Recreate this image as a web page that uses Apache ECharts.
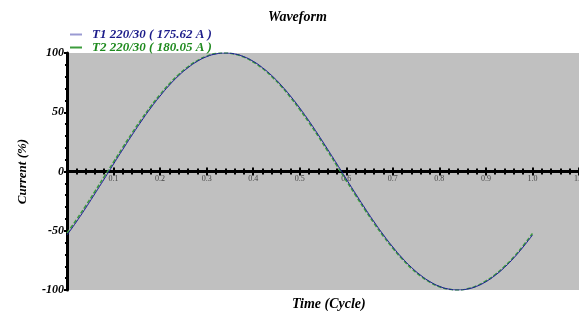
<!DOCTYPE html>
<html>
<head>
<meta charset="utf-8">
<script src="https://cdn.jsdelivr.net/npm/echarts@6/dist/echarts.min.js"></script>
<style>
  html, body { margin: 0; padding: 0; background: #fff; }
  #chart { width: 579px; height: 311px; }
</style>
</head>
<body>
<div id="chart"></div>
<script>
// time in cycles
var times = [0, 0.02, 0.04, 0.06, 0.08, 0.10, 0.12, 0.14, 0.16, 0.18,
  0.20, 0.22, 0.24, 0.26, 0.28, 0.30, 0.32, 0.34, 0.36, 0.38,
  0.40, 0.42, 0.44, 0.46, 0.48, 0.50, 0.52, 0.54, 0.56, 0.58,
  0.60, 0.62, 0.64, 0.66, 0.68, 0.70, 0.72, 0.74, 0.76, 0.78,
  0.80, 0.82, 0.84, 0.86, 0.88, 0.90, 0.92, 0.94, 0.96, 0.98, 1.00];

// current in % of peak
var t1Values = [-53.6, -42.6, -30.9, -18.7, -6.3, 6.3, 18.7, 30.9, 42.6, 53.6,
  63.7, 72.9, 80.9, 87.6, 93.0, 96.9, 99.2, 100, 99.2, 96.9,
  93.0, 87.6, 80.9, 72.9, 63.7, 53.6, 42.6, 30.9, 18.7, 6.3,
  -6.3, -18.7, -30.9, -42.6, -53.6, -63.7, -72.9, -80.9, -87.6, -93.0,
  -96.9, -99.2, -100, -99.2, -96.9, -93.0, -87.6, -80.9, -72.9, -63.7, -53.6];

var t2Values = [-52.0, -40.8, -29.0, -16.8, -4.3, 8.0, 20.5, 32.6, 44.2, 55.0,
  65.0, 74.0, 81.9, 88.4, 93.6, 97.3, 99.5, 100, 99.0, 96.5,
  92.4, 86.9, 80.0, 72.0, 62.6, 52.3, 41.2, 29.5, 17.2, 4.8,
  -7.8, -20.1, -32.3, -43.9, -54.8, -64.8, -73.9, -81.8, -88.3, -93.5,
  -97.2, -99.4, -100, -99.0, -96.5, -92.4, -86.9, -80.0, -72.0, -62.6, -52.3];

var yTicks = [-100, -50, 0, 50, 100];

function pairs(xs, ys) {
  return xs.map(function (x, i) { return [x, ys[i]]; });
}

var serif = '"Liberation Serif", "DejaVu Serif", serif';

var chart = echarts.init(document.getElementById('chart'));

// the x axis sits on the zero line: half the plot height up from the bottom
var zeroOffset = -118.5;

var xBase = {
  type: 'value',
  min: 0,
  max: 1.1,
  interval: 0.1,
  position: 'bottom',
  offset: zeroOffset,
  axisLine: { onZero: false, lineStyle: { color: '#000', width: 3 } },
  splitLine: { show: false },
  minorTick: { show: true, splitNumber: 5, length: 3, lineStyle: { color: '#000', width: 2 } },
  axisTick: { length: 4, lineStyle: { color: '#000', width: 2 } }
};

chart.setOption({
  animation: false,
  title: [
    {
      text: 'Waveform',
      left: 263,
      top: 5,
      textStyle: { fontFamily: serif, fontSize: 14, fontWeight: 'bold', fontStyle: 'italic', color: '#000' }
    },
    {
      text: 'Time (Cycle)',
      left: 287,
      top: 292,
      textStyle: { fontFamily: serif, fontSize: 14, fontWeight: 'bold', fontStyle: 'italic', color: '#000' }
    }
  ],
  legend: {
    orient: 'vertical',
    left: 70,
    top: 28,
    padding: 0,
    itemGap: 0,
    itemWidth: 12,
    itemHeight: 2,
    icon: 'rect',
    textStyle: { fontFamily: serif, fontSize: 13, fontWeight: 'bold', fontStyle: 'italic', padding: [0, 0, 0, 5] },
    data: [
      { name: 'T1 220/30 ( 175.62 A )', itemStyle: { color: '#9a9ad2' }, textStyle: { color: '#1c1c8a' } },
      { name: 'T2 220/30 ( 180.05 A )', itemStyle: { color: '#3c9c3c' }, textStyle: { color: '#1f8a1f' } }
    ]
  },
  grid: {
    left: 67,
    right: 0,
    top: 53,
    bottom: 21,
    outerBoundsMode: 'none',
    containLabel: false,
    show: true,
    backgroundColor: '#c0c0c0',
    borderWidth: 0
  },
  xAxis: [
    Object.assign({}, xBase, {
      axisLabel: {
        showMinLabel: false,
        hideOverlap: false,
        fontFamily: serif,
        fontSize: 8,
        color: '#444',
        margin: 3,
        formatter: function (v) { return v.toFixed(1); }
      }
    }),
    Object.assign({}, xBase, {
      axisLine: { show: false, onZero: false },
      axisLabel: { show: false },
      axisTick: { inside: true, length: 4, lineStyle: { color: '#000', width: 2 } },
      minorTick: { show: true, splitNumber: 5, length: 3, lineStyle: { color: '#000', width: 2 } }
    })
  ],
  yAxis: {
    type: 'value',
    min: yTicks[0],
    max: yTicks[yTicks.length - 1],
    interval: 50,
    name: 'Current (%)',
    nameLocation: 'middle',
    nameGap: 38,
    nameTextStyle: { fontFamily: serif, fontSize: 13, fontWeight: 'bold', fontStyle: 'italic', color: '#000' },
    axisLine: { show: true, onZero: false, lineStyle: { color: '#000', width: 3 } },
    axisTick: { show: true, length: 3, lineStyle: { color: '#000', width: 2 } },
    minorTick: { show: true, splitNumber: 5, length: 2, lineStyle: { color: '#000', width: 2 } },
    splitLine: { show: false },
    axisLabel: {
      fontFamily: serif,
      fontSize: 12,
      fontWeight: 'bold',
      fontStyle: 'italic',
      color: '#000',
      margin: 3
    }
  },
  series: [
    {
      name: 'T2 220/30 ( 180.05 A )',
      type: 'line',
      data: pairs(times, t2Values),
      smooth: true,
      showSymbol: false,
      lineStyle: { color: '#3c9c3c', width: 1.5, type: [4, 2] },
      itemStyle: { color: '#3c9c3c' },
      z: 2
    },
    {
      name: 'T1 220/30 ( 175.62 A )',
      type: 'line',
      data: pairs(times, t1Values),
      smooth: true,
      showSymbol: false,
      lineStyle: { color: '#1c1c96', width: 1 },
      itemStyle: { color: '#1c1c96' },
      z: 3
    }
  ]
});
</script>
</body>
</html>
